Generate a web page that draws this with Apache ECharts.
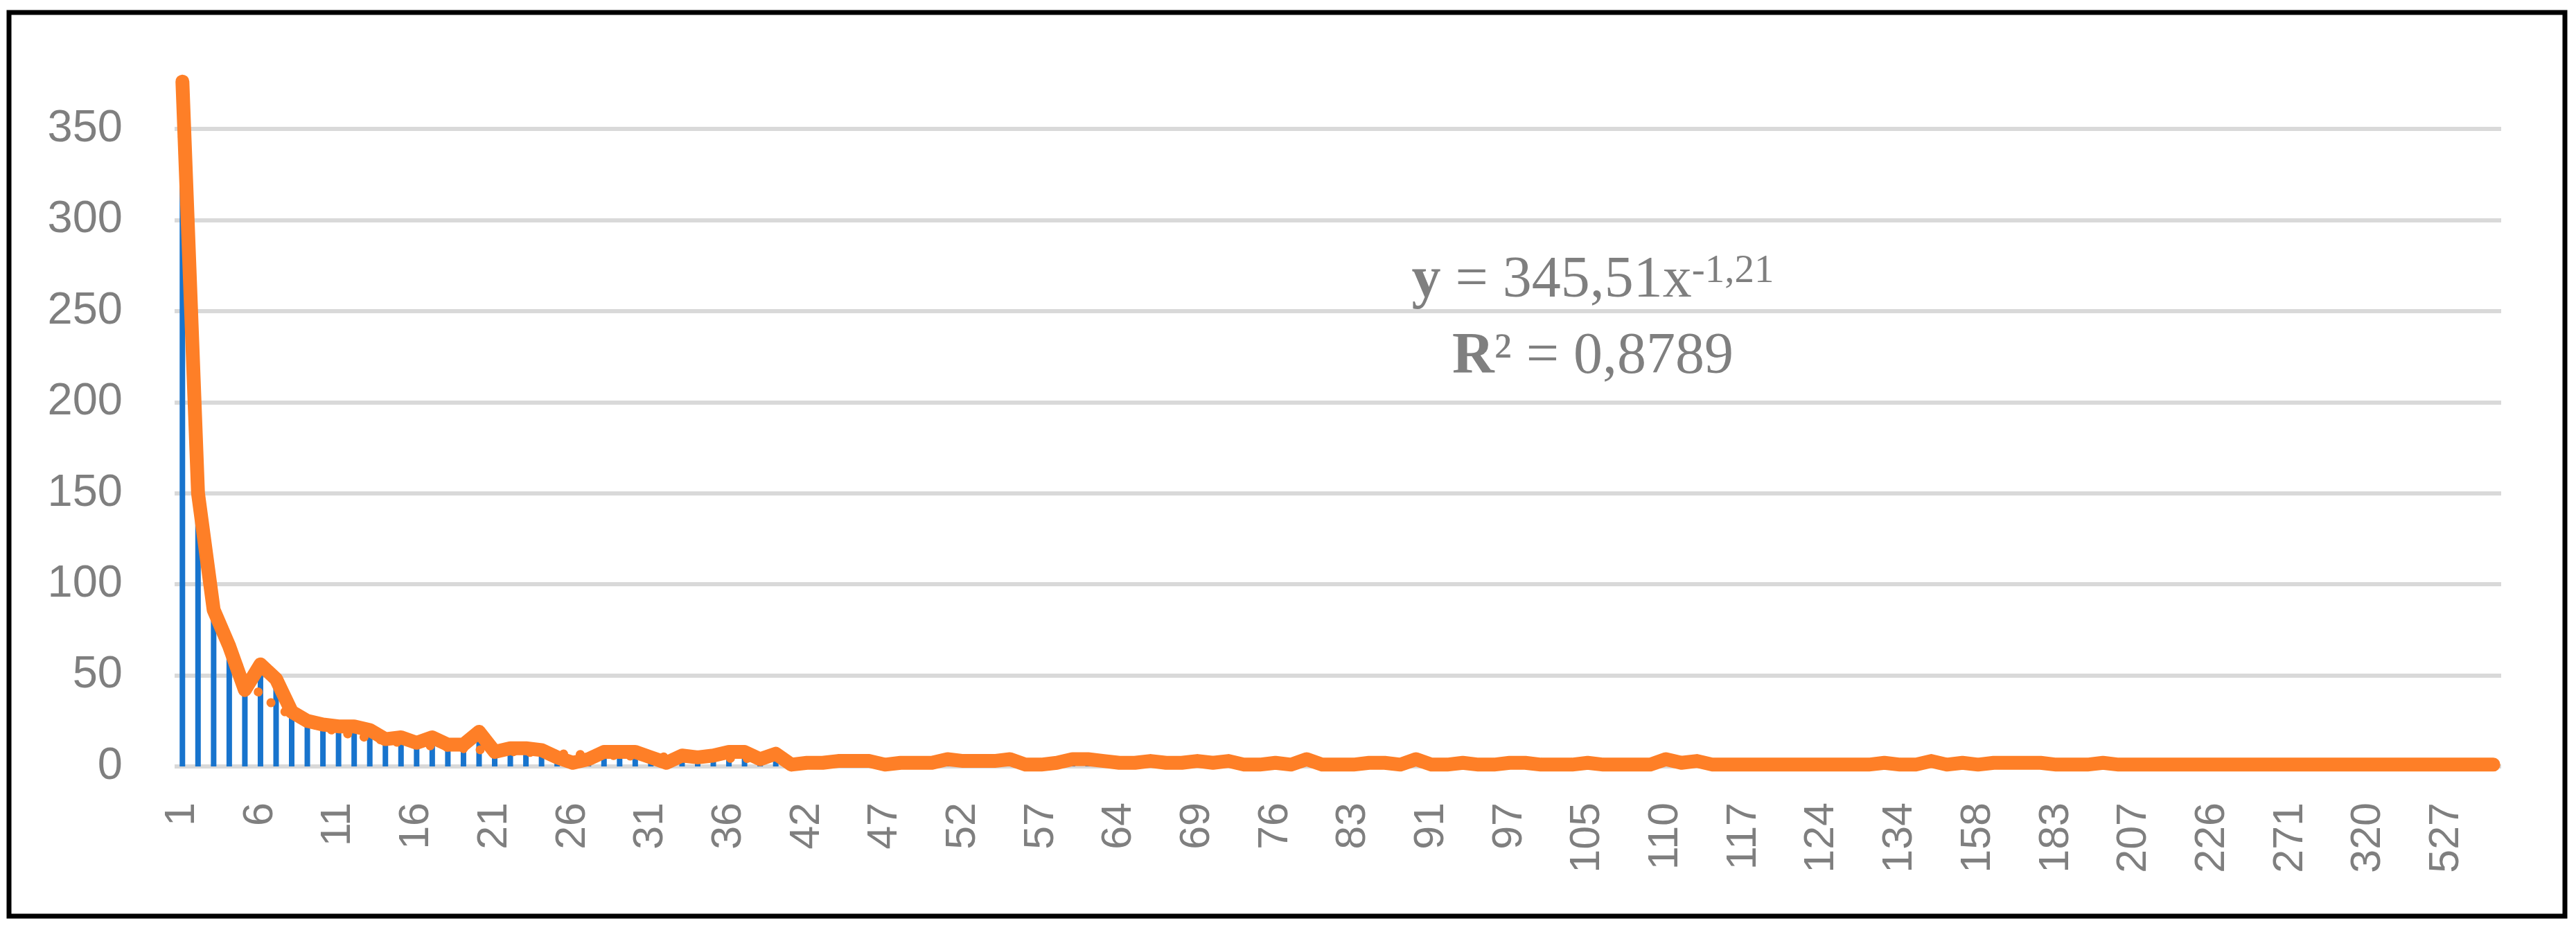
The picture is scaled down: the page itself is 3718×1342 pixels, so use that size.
<!DOCTYPE html>
<html>
<head>
<meta charset="utf-8">
<title>chart</title>
<script src="https://cdn.jsdelivr.net/npm/echarts@6/dist/echarts.min.js"></script>
<style>
  html, body { margin: 0; padding: 0; background: #fff; }
  #chart { width: 3718px; height: 1342px; }
</style>
</head>
<body>
<div id="chart"></div>
<script>
// x values (only every 5th one is labelled on the axis)
var categories = [
  1, 2, 3, 4, 5, 6, 7, 8, 9, 10, 11, 12, 13, 14, 15, 16, 17, 18, 19, 20,
  21, 22, 23, 24, 25, 26, 27, 28, 29, 30, 31, 32, 33, 34, 35, 36,
  37, 38, 40, 41,
  42, 43, 44, 45, 46, 47, 48, 49, 50, 51, 52, 53, 54, 55, 56,
  57, 58, 60, 61, 63, 64, 65, 66, 67, 68, 69, 70, 72, 73, 75,
  76, 77, 79, 80, 82, 83, 84, 86, 88, 90, 91, 92, 93, 95, 96,
  97, 99, 100, 102, 104, 105, 106, 107, 108, 109, 110, 111, 113, 114, 116,
  117, 118, 120, 121, 123, 124, 126, 128, 130, 132, 134, 139, 143, 148, 153,
  158, 163, 168, 173, 178, 183, 188, 193, 198, 203, 207, 211, 215, 218, 222,
  226, 235, 244, 253, 262, 271, 280, 290, 300, 310, 320, 350, 390, 430, 480,
  527, 580, 650, 746
].map(String)

// counts per x value
var counts = [
  376, 150, 86, 66, 42, 56, 48, 30, 25, 23,
  22, 22, 20, 15, 16, 13, 16, 12, 12, 19,
  8, 10, 10, 9, 5, 2, 4, 8, 8, 8,
  5, 2, 6, 5, 6, 8, 8, 4, 7, 1,
  2, 2, 3, 3, 3, 1, 2, 2, 2, 4,
  3, 3, 3, 4, 1, 1, 2, 4, 4, 3,
  2, 2, 3, 2, 2, 3, 2, 3, 1, 1,
  2, 1, 4, 1, 1, 1, 2, 2, 1, 4,
  1, 1, 2, 1, 1, 2, 2, 1, 1, 1,
  2, 1, 1, 1, 1, 4, 2, 3, 1, 1,
  1, 1, 1, 1, 1, 1, 1, 1, 1, 2,
  1, 1, 3, 1, 2, 1, 2, 2, 2, 2,
  1, 1, 1, 2, 1, 1, 1, 1, 1, 1,
  1, 1, 1, 1, 1, 1, 1, 1, 1, 1,
  1, 1, 1, 1, 1, 1, 1, 1, 1
]

// dotted power trendline, read where it shows (hidden under the line further right)
var trend = [
  345.5, 149.3, 91.4, 64.6, 49.3, 39.5, 32.8, 27.9, 24.2, 21.3,
  19.0, 17.1, 15.5, 14.2, 13.0, 12.1, 11.2, 10.5, 9.8, 9.2,
  8.7, 8.2, 7.8, 7.4, 7.0, 6.7, 6.4, 6.1, 5.9, 5.6,
  5.4, 5.2, 5.0, 4.8, 4.7, 4.5, 4.4, 4.2, 4.0, 3.9
]

var yTicks = { min: 0, max: 350, interval: 50 }

var gray = '#7f7f7f'
var orange = '#fe7f27'
var blue = '#1874cd'
var serif = '"Liberation Serif", "Times New Roman", serif'

var chart = echarts.init(document.getElementById('chart'))
chart.setOption({
  animation: false,
  grid: {
    left: 252,
    right: 108,
    top: 186,
    bottom: 236
  },
  xAxis: {
    type: 'category',
    data: categories,
    axisLine: { show: false },
    axisTick: { show: false },
    axisLabel: {
      interval: 4,
      rotate: 90,
      margin: 52,
      color: gray,
      fontSize: 61,
      fontFamily: 'Liberation Sans'
    }
  },
  yAxis: {
    type: 'value',
    min: yTicks.min,
    max: yTicks.max,
    interval: yTicks.interval,
    axisLine: { show: false },
    axisTick: { show: false },
    axisLabel: {
      margin: 75,
      color: gray,
      fontSize: 65,
      fontFamily: 'Liberation Sans'
    },
    splitLine: {
      lineStyle: { color: '#d9d9d9', width: 6 }
    }
  },
  series: [
    {
      name: 'counts',
      type: 'bar',
      data: counts,
      barWidth: 8,
      clip: false,
      itemStyle: { color: blue }
    },
    {
      name: 'trend',
      type: 'line',
      data: trend,
      symbol: 'none',
      clip: false,
      lineStyle: { color: orange, width: 13, type: [0.1, 24], cap: 'round' }
    },
    {
      name: 'line',
      type: 'line',
      data: counts,
      symbol: 'none',
      clip: false,
      lineStyle: { color: orange, width: 20, cap: 'round', join: 'round' }
    }
  ],
  graphic: [
    {
      type: 'rect',
      silent: true,
      shape: { x: 13, y: 18, width: 3689, height: 1304 },
      style: { fill: 'none', stroke: '#000', lineWidth: 7 }
    },
    {
      type: 'text',
      x: 2299,
      y: 406,
      style: {
        text: '{b|y}{n| = 345,51x}{sup|-1,21}',
        align: 'center',
        verticalAlign: 'middle',
        rich: {
          b: { fontFamily: serif, fontSize: 84, fontWeight: 'bold', fill: gray, lineHeight: 84 },
          n: { fontFamily: serif, fontSize: 84, fill: gray, lineHeight: 84 },
          sup: { fontFamily: serif, fontSize: 57, fill: gray, lineHeight: 60, verticalAlign: 'top' }
        }
      }
    },
    {
      type: 'text',
      x: 2299,
      y: 516,
      style: {
        text: '{b|R}{n|² = 0,8789}',
        align: 'center',
        verticalAlign: 'middle',
        rich: {
          b: { fontFamily: serif, fontSize: 84, fontWeight: 'bold', fill: gray, lineHeight: 84 },
          n: { fontFamily: serif, fontSize: 84, fill: gray, lineHeight: 84 }
        }
      }
    }
  ]
})
</script>
</body>
</html>
